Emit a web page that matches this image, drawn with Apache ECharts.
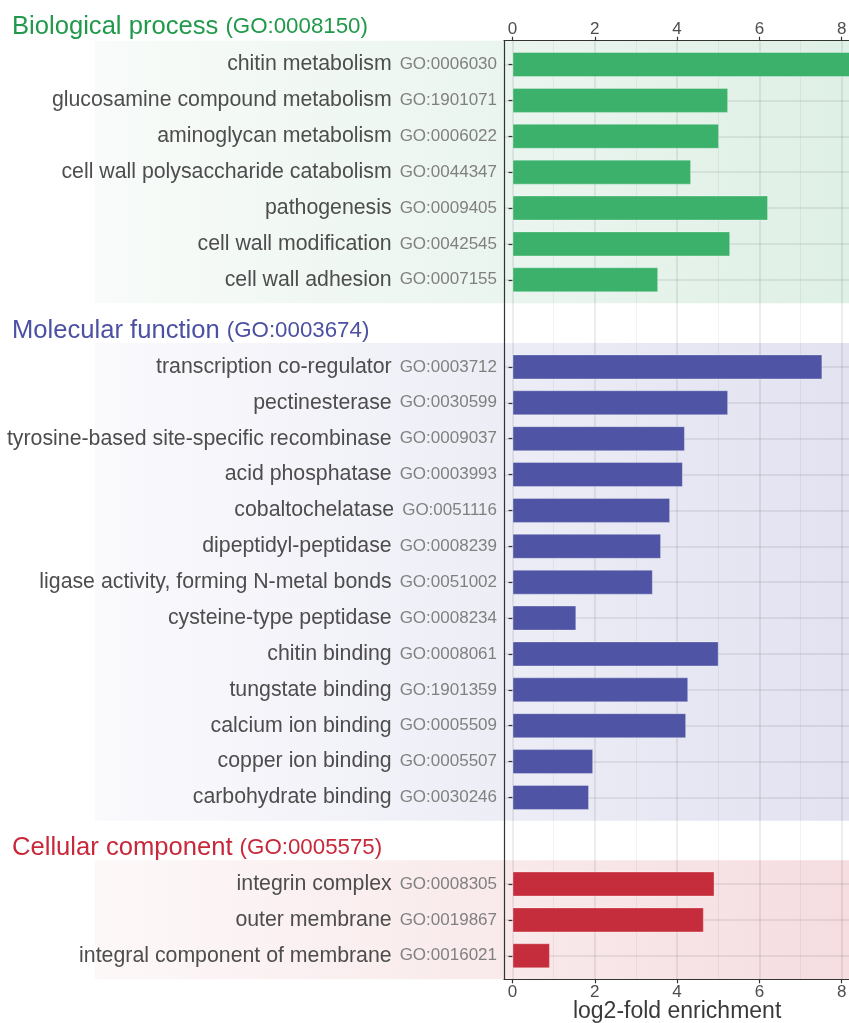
<!DOCTYPE html>
<html>
<head>
<meta charset="utf-8">
<script src="https://cdn.jsdelivr.net/npm/echarts@6/dist/echarts.min.js"></script>
<style>
html,body{margin:0;padding:0;background:#fff;}
#chart{width:849px;height:1023px;}
</style>
</head>
<body>
<div id="chart"></div>
<script>
// ---------- data ----------
const groupNames = ['Biological process', 'Molecular function', 'Cellular component'];
const groupIds = ['GO:0008150', 'GO:0003674', 'GO:0005575'];

const bpTerms = ['chitin metabolism', 'glucosamine compound metabolism', 'aminoglycan metabolism',
  'cell wall polysaccharide catabolism', 'pathogenesis', 'cell wall modification', 'cell wall adhesion'];
const bpIds = ['GO:0006030', 'GO:1901071', 'GO:0006022', 'GO:0044347', 'GO:0009405', 'GO:0042545', 'GO:0007155'];
const bpValues = [8.5, 5.24, 5.02, 4.34, 6.21, 5.29, 3.54];

const mfTerms = ['transcription co-regulator', 'pectinesterase', 'tyrosine-based site-specific recombinase',
  'acid phosphatase', 'cobaltochelatase', 'dipeptidyl-peptidase', 'ligase activity, forming N-metal bonds',
  'cysteine-type peptidase', 'chitin binding', 'tungstate binding', 'calcium ion binding',
  'copper ion binding', 'carbohydrate binding'];
const mfIds = ['GO:0003712', 'GO:0030599', 'GO:0009037', 'GO:0003993', 'GO:0051116', 'GO:0008239',
  'GO:0051002', 'GO:0008234', 'GO:0008061', 'GO:1901359', 'GO:0005509', 'GO:0005507', 'GO:0030246'];
const mfValues = [7.53, 5.24, 4.19, 4.14, 3.83, 3.61, 3.41, 1.55, 5.01, 4.27, 4.22, 1.96, 1.86];

const ccTerms = ['integrin complex', 'outer membrane', 'integral component of membrane'];
const ccIds = ['GO:0008305', 'GO:0019867', 'GO:0016021'];
const ccValues = [4.91, 4.65, 0.91];

const xTickMin = 0, xTickMax = 8, xTickStep = 2;
const xAxisTitle = 'log2-fold enrichment';

// ---------- style / layout ----------
const W = 849, H = 1023;
const FONT = '"Liberation Sans", Arial, Helvetica, sans-serif';
const frameLeft = 504, zeroX = 512.5, unit = 41.15;
const panelTop = 40.7, panelBottom = 979.3;
const rowStep = 35.88;
const groupTopY = [64.5, 366.9, 884.0];
const titleCenterY = [25, 329, 846];
const bandPadTop = 23.8, bandPadBottom = 23.4, bandLeft = 95;

const barColors = ['#3bb16b', '#4f54a5', '#c62d3c'];
const titleColors = ['#21994a', '#4b50a3', '#c8283a'];
const bandStops = [
  ['#f8fbf9', '#dff0e6'],
  ['#fafafd', '#e2e2f1'],
  ['#fdf8f8', '#f5dde0']
];

const groups = [
  {terms: bpTerms, ids: bpIds, values: bpValues},
  {terms: mfTerms, ids: mfIds, values: mfValues},
  {terms: ccTerms, ids: ccIds, values: ccValues}
];

const dataMin = -(zeroX - frameLeft) / unit;
const dataMax = (W - zeroX) / unit;

const grid = [
  {left: frameLeft, right: 0, top: panelTop, bottom: H - panelBottom, outerBoundsMode: 'none', containLabel: false},
  {left: zeroX, right: W - (zeroX + xTickMax * unit), top: panelTop, bottom: H - panelBottom, outerBoundsMode: 'none', containLabel: false}
];
const xAxis = [
  {gridIndex: 0, type: 'value', position: 'bottom', min: 0, max: 1, axisLine: {show: true, onZero: false, lineStyle: {color: '#333', width: 1.2}}, axisTick: {show: false}, axisLabel: {show: false}, splitLine: {show: false}},
  {gridIndex: 0, type: 'value', position: 'top', min: 0, max: 1, axisLine: {show: true, onZero: false, lineStyle: {color: '#333', width: 1.2}}, axisTick: {show: false}, axisLabel: {show: false}, splitLine: {show: false}},
  {gridIndex: 1, type: 'value', position: 'bottom', min: xTickMin, max: xTickMax, interval: xTickStep,
    axisLine: {show: false}, axisTick: {show: true, length: 4, lineStyle: {color: '#333', width: 1.2}},
    axisLabel: {show: true, margin: 5, fontSize: 17, color: '#4d4d4d', fontFamily: FONT},
    splitLine: {show: true, lineStyle: {color: 'rgba(0,0,0,0.09)', width: 1.6}},
    minorTick: {show: false, splitNumber: 2},
    minorSplitLine: {show: true, lineStyle: {color: 'rgba(0,0,0,0.05)', width: 1}},
    name: xAxisTitle, nameLocation: 'middle', nameGap: 21, nameMoveOverlap: false,
    nameTextStyle: {fontSize: 23, color: '#3a3a3a', fontFamily: FONT, verticalAlign: 'top'}},
  {gridIndex: 1, type: 'value', position: 'top', min: xTickMin, max: xTickMax, interval: xTickStep,
    axisLine: {show: false}, axisTick: {show: true, length: 4, lineStyle: {color: '#333', width: 1.2}},
    axisLabel: {show: true, margin: 3, fontSize: 17, color: '#4d4d4d', fontFamily: FONT},
    splitLine: {show: false}}
];
const yAxis = [
  {gridIndex: 0, type: 'value', min: 0, max: 1, axisLine: {show: true, lineStyle: {color: '#333', width: 1.2}}, axisTick: {show: false}, axisLabel: {show: false}, splitLine: {show: false}},
  {gridIndex: 1, type: 'value', min: 0, max: 1, show: false}
];
const series = [];
const graphics = [];
const titles = [];

groups.forEach((g, i) => {
  const n = g.terms.length;
  const top = groupTopY[i];
  const h = (n - 1) * rowStep;
  grid.push({left: frameLeft, right: 0, top: top, height: h, outerBoundsMode: 'none', containLabel: false});
  const gi = grid.length - 1;
  xAxis.push({gridIndex: gi, type: 'value', min: dataMin, max: dataMax, show: false});
  const ids = g.ids;
  yAxis.push({
    gridIndex: gi, type: 'category', inverse: true, boundaryGap: false, data: g.terms,
    axisLine: {show: false},
    axisTick: {show: true, length: 4, lineStyle: {color: '#333', width: 1.2}},
    axisLabel: {
      show: true, interval: 0, margin: 7,
      formatter: (v, idx) => '{n|' + v + '}{g|' + ids[idx] + '}',
      rich: {
        n: {fontSize: 21.3, color: '#4d4d4d', fontFamily: FONT, padding: [0, 8, 0, 0]},
        g: {fontSize: 17, color: '#808080', fontFamily: FONT}
      }
    },
    splitLine: {show: true, lineStyle: {color: 'rgba(0,0,0,0.065)', width: 2}}
  });
  series.push({
    type: 'bar', xAxisIndex: xAxis.length - 1, yAxisIndex: yAxis.length - 1,
    data: g.values, barWidth: 25, clip: false, z: 3,
    itemStyle: {color: barColors[i], borderColor: 'rgba(255,255,255,0.3)', borderWidth: 1},
    silent: true, animation: false
  });
  graphics.push({
    type: 'rect', z: -10, silent: true,
    shape: {x: bandLeft, y: top - bandPadTop, width: W - bandLeft, height: h + bandPadTop + bandPadBottom},
    style: {fill: new echarts.graphic.LinearGradient(0, 0, 1, 0, [
      {offset: 0, color: bandStops[i][0]}, {offset: 1, color: bandStops[i][1]}])}
  });
  titles.push({
    text: '{a|' + groupNames[i] + '} {b|(' + groupIds[i] + ')}',
    left: 12, top: titleCenterY[i] - 12, padding: 0,
    textStyle: {
      fontFamily: FONT, fontWeight: 'normal', fontSize: 25.6,
      rich: {
        a: {fontSize: 25.6, color: titleColors[i], fontFamily: FONT, fontWeight: 'normal', lineHeight: 28},
        b: {fontSize: 22.3, color: titleColors[i], fontFamily: FONT, fontWeight: 'normal', lineHeight: 28}
      }
    }
  });
});

const chart = echarts.init(document.getElementById('chart'), null, {renderer: 'canvas', width: W, height: H});
chart.setOption({
  animation: false,
  backgroundColor: '#ffffff',
  title: titles,
  grid: grid,
  xAxis: xAxis,
  yAxis: yAxis,
  series: series,
  graphic: {elements: graphics}
});
</script>
</body>
</html>
